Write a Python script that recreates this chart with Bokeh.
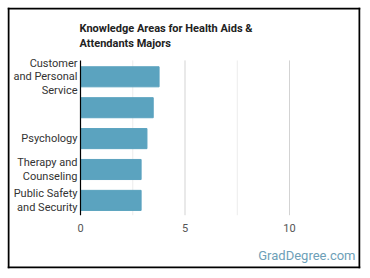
from bokeh.plotting import figure
from bokeh.models import Range1d, Label, ColumnDataSource
from bokeh.core.properties import value
from bokeh.embed import file_html
from bokeh.resources import INLINE

# Knowledge area scores for Health Aids & Attendants majors
areas = ["Customer\nand Personal\nService", "", "Psychology",
         "Therapy and\nCounseling", "Public Safety\nand Security"]
scores = [3.76, 3.48, 3.18, 2.9, 2.9]
x_ticks = [0, 5, 10]
minor_ticks = [2.5, 7.5]
title_lines = ["Knowledge Areas for Health Aids &", "Attendants Majors"]

W, H = 370, 278
FONT = "Roboto"
# framed box on the canvas (left, top, right, bottom in pixels)
BL, BT, BR, BB = 7, 7, 360, 268
X0, PX_X = 80, 20.9          # pixel of value 0, pixels per unit
Y5, PX_Y = 76.3, 30.9        # pixel of the top row, pixels per row

positions = list(range(len(areas), 0, -1))

# the frame is the bordered box; axes and labels are drawn by hand inside it
x_range = Range1d(-(X0 - BL) / PX_X, (BR - X0) / PX_X)
y_range = Range1d(5 - (BB - Y5) / PX_Y, 5 + (Y5 - BT) / PX_Y)
p = figure(width=W, height=H, output_backend="svg", toolbar_location=None,
           x_axis_type=None, y_axis_type=None,
           x_range=x_range, y_range=y_range,
           min_border_left=BL, min_border_top=BT,
           min_border_right=W - BR, min_border_bottom=H - BB)
p.outline_line_color = None
p.grid.visible = False

top, bottom = len(areas) + 0.53, 0.52

# vertical grid lines
p.segment(x0=minor_ticks, x1=minor_ticks, y0=bottom, y1=top,
          line_color="#ececec", line_width=1)
p.segment(x0=x_ticks[1:], x1=x_ticks[1:], y0=bottom, y1=top,
          line_color="#d3d3d3", line_width=1)

# bars
p.hbar(y=positions, right=scores, left=0, height=0.65, color="#5ba3bf")

# value axis line at zero
p.segment(x0=[0], x1=[0], y0=[bottom], y1=[top], line_color="black",
          line_width=1.2)

# x tick labels
p.text(x=x_ticks, y=[bottom] * len(x_ticks), text=[str(t) for t in x_ticks],
       y_offset=13, text_font=value(FONT), text_font_size="11px",
       text_color="#555555", text_align="center", text_baseline="middle")

# category labels, each line right-aligned against the axis
lx, ly, lt, loff = [], [], [], []
for pos, lab in zip(positions, areas):
    lines = lab.split("\n") if lab else []
    n = len(lines)
    for i, line in enumerate(lines):
        lx.append(0)
        ly.append(pos)
        lt.append(line)
        loff.append(-(n - 1) / 2 * 13.7 + 13.7 * i)
src = ColumnDataSource(dict(x=lx, y=ly, text=lt, off=loff))
p.text(x="x", y="y", text="text", y_offset="off", x_offset=-3, source=src,
       text_font=value(FONT), text_font_size="11px", text_color="#333333",
       text_align="right", text_baseline="middle")

# black 2px border just inside the frame edges
dx, dy = 1 / PX_X, 1 / PX_Y
xs, xe = x_range.start + dx, x_range.end - dx
ys, ye = y_range.start + dy, y_range.end - dy
p.segment(x0=[xs - dx, xs - dx, xs, xe], x1=[xe + dx, xe + dx, xs, xe],
          y0=[ys, ye, ys - dy, ys - dy], y1=[ys, ye, ye + dy, ye + dy],
          line_color="black", line_width=2)

# title (screen units are measured from the frame's lower-left corner)
for i, t in enumerate(title_lines):
    p.add_layout(Label(x=79 - BL, y=BB - 28 - 15 * i,
                       x_units="screen", y_units="screen",
                       text=t, text_font=FONT, text_font_style="bold",
                       text_font_size="11px", text_color="#222222",
                       text_baseline="middle"))

p.add_layout(Label(x=355 - BL, y=BB - 255, x_units="screen", y_units="screen",
                   text="GradDegree.com", text_font=FONT, text_font_size="13px",
                   text_color="#6e9fb8", text_align="right", text_baseline="middle"))

open("out.html", "w").write(file_html(p, INLINE))
